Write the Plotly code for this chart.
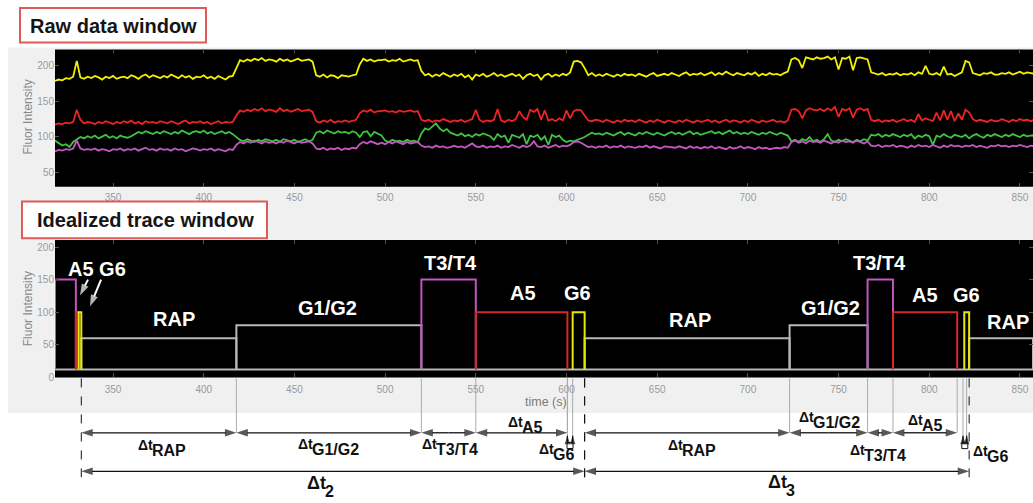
import plotly.graph_objects as go

W, H = 1033, 503

# ---------------- raw data window (fluorescence, sampled every 2 s from 318 s) -------------
raw_t0 = 318
raw_dt = 2
raw_yellow = [
    178, 180, 179, 182, 181, 184, 206, 183, 181, 184,
    182, 185, 183, 180, 184, 182, 185, 181, 183, 184,
    182, 186, 184, 181, 185, 187, 183, 186, 184, 182,
    185, 183, 187, 184, 182, 186, 183, 185, 181, 184,
    183, 186, 182, 184, 181, 185, 183, 180, 184, 185,
    196, 207, 205, 208, 206, 209, 207, 210, 206, 208,
    207, 205, 209, 206, 208, 205, 207, 209, 206, 207,
    208, 205, 186, 184, 187, 183, 186, 185, 182, 186,
    185, 184, 186, 187, 201, 209, 206, 208, 205, 207,
    207, 208, 205, 207, 206, 209, 205, 207, 208, 206,
    207, 192, 186, 188, 184, 187, 185, 189, 186, 184,
    187, 185, 188, 183, 186, 180, 187, 185, 188, 184,
    186, 189, 185, 187, 184, 186, 188, 185, 187, 181,
    186, 188, 185, 187, 180, 186, 188, 184, 187, 185,
    188, 186, 190, 205, 206, 204, 196, 186, 189, 185,
    187, 185, 188, 186, 184, 187, 185, 188, 186, 187,
    185, 188, 186, 184, 187, 189, 185, 187, 188, 186,
    189, 187, 185, 188, 190, 186, 188, 187, 189, 186,
    188, 190, 186, 189, 187, 191, 188, 186, 189, 187,
    186, 189, 187, 190, 185, 188, 186, 189, 187, 188,
    186, 189, 191, 208, 210, 207, 196, 211, 209, 208,
    211, 209, 210, 212, 208, 211, 194, 210, 209, 212,
    193, 210, 211, 209, 208, 190, 188, 187, 189, 186,
    188, 187, 189, 186, 188, 187, 189, 186, 190, 188,
    199, 188, 187, 189, 186, 198, 187, 188, 185, 187,
    190, 206, 204, 189, 187, 186, 189, 188, 190, 187,
    187, 189, 188, 190, 187, 189, 191, 188, 190, 189,
    188]
raw_red = [
    117, 119, 118, 120, 119, 121, 138, 124, 119, 121,
    120, 118, 121, 119, 122, 120, 118, 121, 119, 122,
    120, 123, 119, 121, 118, 122, 120, 121, 119, 122,
    121, 119, 122, 120, 118, 121, 123, 119, 121, 120,
    122, 119, 121, 118, 120, 122, 119, 121, 120, 121,
    130, 137, 135, 138, 136, 139, 137, 140, 136, 138,
    137, 135, 140, 136, 138, 135, 137, 139, 136, 137,
    138, 135, 122, 120, 123, 121, 124, 120, 122, 121,
    123, 121, 122, 124, 133, 137, 135, 138, 134, 136,
    136, 137, 135, 136, 134, 137, 135, 136, 137, 135,
    136, 124, 122, 124, 121, 123, 122, 125, 123, 121,
    123, 122, 124, 121, 123, 125, 138, 124, 121, 123,
    122, 124, 139, 123, 121, 124, 122, 125, 136, 128,
    124, 138, 135, 139, 124, 137, 123, 125, 122, 126,
    123, 137, 126, 136, 138, 137, 130, 123, 122, 124,
    123, 121, 124, 122, 120, 123, 121, 124, 122, 123,
    121, 124, 122, 120, 123, 121, 124, 122, 120, 123,
    122, 120, 123, 121, 124, 122, 120, 123, 121, 122,
    124, 121, 123, 120, 122, 124, 121, 123, 122, 120,
    123, 121, 124, 122, 120, 123, 121, 122, 124, 121,
    122, 120, 123, 138, 139, 136, 126, 137, 140, 138,
    137, 139, 136, 140, 137, 142, 128, 139, 137, 140,
    127, 138, 140, 137, 139, 124, 122, 124, 121, 123,
    122, 124, 121, 123, 125, 122, 124, 121, 132, 123,
    126, 124, 122, 134, 123, 137, 124, 136, 122, 133,
    124, 138, 134, 125, 122, 124, 123, 121, 124, 122,
    122, 125, 123, 121, 124, 122, 125, 123, 124, 122,
    124]
raw_green = [
    95, 92, 88, 90, 86, 93, 97, 100, 98, 101,
    99, 102, 98, 100, 103, 99, 101, 98, 102, 100,
    99, 101, 104, 107, 105, 108, 106, 104, 107, 105,
    108, 106, 104, 107, 105, 109, 106, 104, 107, 108,
    106, 109, 105, 107, 104, 106, 108, 105, 107, 104,
    100, 96, 94, 97, 95, 93, 96, 94, 97, 95,
    94, 96, 93, 97, 95, 94, 96, 93, 95, 97,
    94, 96, 106, 108, 105, 109, 107, 105, 108, 106,
    107, 105, 108, 106, 100, 107, 108, 101, 107, 105,
    102, 95, 93, 96, 94, 95, 93, 96, 94, 95,
    93, 105, 112, 110, 114, 119, 112, 108, 111, 106,
    104, 102, 105, 101, 103, 100, 104, 102, 105, 103,
    101, 96, 104, 100, 102, 92, 103, 101, 99, 104,
    90, 102, 100, 103, 96, 101, 89, 103, 100, 102,
    96, 93, 95, 94, 96, 97, 100, 103, 106, 104,
    105, 103, 106, 104, 102, 105, 107, 103, 106, 104,
    102, 106, 104, 107, 105, 103, 106, 104, 102, 105,
    107, 104, 106, 103, 105, 108, 104, 106, 103, 105,
    106, 108, 105, 107, 104, 106, 109, 105, 107, 104,
    106, 104, 107, 105, 103, 106, 104, 107, 105, 103,
    106, 104, 102, 94, 96, 93, 97, 95, 100, 94,
    96, 93, 97, 104, 95, 93, 96, 94, 97, 95,
    93, 96, 94, 97, 95, 103, 102, 104, 100, 103,
    101, 104, 102, 100, 103, 101, 104, 98, 102, 100,
    103, 101, 89, 102, 100, 104, 101, 99, 103, 101,
    100, 103, 98, 102, 104, 101, 99, 103, 101, 104,
    102, 100, 103, 101, 104, 102, 100, 103, 101, 102,
    103]
raw_magenta = [
    80, 82, 81, 83, 82, 84, 95, 84, 82, 83,
    82, 84, 81, 83, 82, 80, 83, 82, 84, 81,
    83, 82, 84, 81, 83, 85, 82, 83, 81, 84,
    82, 83, 81, 84, 82, 83, 80, 82, 84, 83,
    81, 83, 82, 84, 81, 83, 82, 80, 83, 82,
    89, 93, 91, 94, 92, 95, 93, 91, 94, 92,
    93, 91, 94, 92, 95, 93, 91, 94, 92, 93,
    94, 91, 84, 83, 85, 82, 84, 83, 85, 82,
    84, 83, 85, 84, 90, 93, 91, 94, 92, 90,
    92, 90, 93, 91, 94, 92, 90, 93, 91, 92,
    93, 88, 86, 87, 85, 88, 86, 87, 85, 86,
    88, 86, 87, 85, 88, 91, 87, 86, 88, 85,
    87, 86, 88, 85, 87, 86, 89, 87, 85, 88,
    86, 88, 94, 87, 86, 88, 85, 87, 89, 86,
    88, 87, 89, 93, 94, 92, 89, 86, 87, 85,
    87, 86, 88, 85, 87, 86, 88, 85, 87, 86,
    85, 87, 86, 88, 85, 87, 86, 84, 87, 86,
    86, 85, 87, 86, 84, 87, 85, 86, 84, 86,
    85, 87, 84, 86, 85, 83, 86, 84, 85, 87,
    84, 86, 85, 83, 86, 84, 85, 83, 84, 85,
    84, 86, 85, 93, 95, 92, 94, 91, 95, 93,
    94, 92, 95, 93, 91, 94, 92, 95, 93, 94,
    92, 95, 93, 91, 94, 88, 87, 89, 86, 88,
    87, 89, 86, 88, 87, 85, 88, 86, 89, 87,
    88, 86, 89, 87, 85, 88, 86, 89, 87, 88,
    86, 88, 87, 89, 86, 88, 87, 85, 88, 87,
    89, 87, 88, 86, 88, 87, 89, 88, 86, 88,
    87]

# ---------------- idealized trace window ----------------
seg_state = ["T3/T4", "A5", "G6", "RAP", "G1/G2", "T3/T4", "A5", "G6",
             "RAP", "G1/G2", "T3/T4", "A5", "G6", "RAP"]
seg_start = [318, 329.5, 331, 332.5, 418, 520, 550, 603.4,
             610, 723, 766, 780, 819.3, 822]
seg_end = [329.5, 331, 332.5, 418, 520, 550, 600.5, 610,
           723, 766, 780, 815.4, 822, 857.2]
seg_level = [150, 100, 100, 60, 80, 150, 100, 100, 60, 80, 150, 100, 100, 60]
baseline_level = 12

# dwell-time intervals (start, end, state) and cycle intervals
dwell = [(332.5, 418, "RAP"), (418, 520, "G1/G2"), (520, 550, "T3/T4"), (550, 600.5, "A5"),
         (610, 723, "RAP"), (723, 766, "G1/G2"), (766, 780, "T3/T4"), (780, 815.4, "A5")]
g6_marks = [(600.5, 603.4), (818.6, 820.6)]
cycles = [(332.5, 610, "2"), (610, 822, "3")]

x_range = [318, 857.2]
x_ticks = [350, 400, 450, 500, 550, 600, 650, 700, 750, 800, 850]
y1_ticks = [50, 100, 150, 200]
y2_ticks = [0, 50, 100, 150, 200]

# ---------------- styling ----------------
FONT = "Liberation Sans, Arial, sans-serif"
COL = {"yellow": "#f2f200", "red": "#ee2323", "green": "#3fc43f", "magenta": "#c457c4"}
GREY = "#b8b8b8"
STATE_COL = {"T3/T4": "#c255c2", "A5": "#d62828", "G6": "#e8e800",
             "RAP": GREY, "G1/G2": GREY}
INK = "#111111"
# approx. bold glyph advance widths (em) used to centre the split delta-t labels
ADV = {"\u0394": 0.612, "t": 0.333, "R": 0.722, "A": 0.722, "P": 0.667, "G": 0.778, "/": 0.278,
       "T": 0.611, "1": 0.556, "2": 0.556, "3": 0.556, "4": 0.556, "5": 0.556, "6": 0.556}


def ypx(p):
    return 1 - p / H


def xpx(p):
    return p / W


fig = go.Figure()

# raw traces
for vals, c in [(raw_yellow, COL["yellow"]), (raw_red, COL["red"]),
                (raw_green, COL["green"]), (raw_magenta, COL["magenta"])]:
    t = [raw_t0 + raw_dt * i for i in range(len(vals))]
    fig.add_trace(go.Scatter(x=t, y=vals, mode="lines", line=dict(color=c, width=1.8),
                             xaxis="x", yaxis="y", hoverinfo="skip", showlegend=False))

# idealized: baseline then pulses (grey first, coloured on top)
fig.add_trace(go.Scatter(x=x_range, y=[baseline_level, baseline_level], mode="lines",
                         line=dict(color=GREY, width=2), xaxis="x2", yaxis="y2",
                         hoverinfo="skip", showlegend=False))
order = [i for i in range(len(seg_state)) if STATE_COL[seg_state[i]] == GREY] + \
        [i for i in range(len(seg_state)) if STATE_COL[seg_state[i]] != GREY]
for i in order:
    s, e, lv = seg_start[i], seg_end[i], seg_level[i]
    fig.add_trace(go.Scatter(x=[s, s, e, e], y=[baseline_level, lv, lv, baseline_level],
                             mode="lines", line=dict(color=STATE_COL[seg_state[i]], width=2),
                             xaxis="x2", yaxis="y2", hoverinfo="skip", showlegend=False))

# ---------- dwell-time diagram below the idealized panel (x2 / y3, y3 in pixel rows) ----------
PLOT_BOTTOM = 383
ROW1, ROW2 = 438, 477
vx, vy = [], []
for s, e, st in dwell:
    vx += [e, e, None]
    vy += [PLOT_BOTTOM, ROW1, None]
for a, b in g6_marks:
    for m in (a, b):
        vx += [m, m, None]
        vy += [PLOT_BOTTOM, 446, None]
fig.add_trace(go.Scatter(x=vx, y=vy, mode="lines", line=dict(color="#aaaaaa", width=1),
                         xaxis="x2", yaxis="y3", hoverinfo="skip", showlegend=False))
dx, dy = [], []
for s, e, n in cycles:
    for m in (s, e):
        dx += [m, m, None]
        dy += [PLOT_BOTTOM, 483, None]
fig.add_trace(go.Scatter(x=dx, y=dy, mode="lines", line=dict(color=INK, width=1, dash="dash"),
                         xaxis="x2", yaxis="y3", hoverinfo="skip", showlegend=False))


def arrow_trace(xs, ys, sizes, color=INK, width=1.3):
    """line segments whose non-zero-size points carry an arrowhead aligned with the segment."""
    fig.add_trace(go.Scatter(x=xs, y=ys, mode="lines+markers",
                             line=dict(color=color, width=width),
                             marker=dict(symbol="arrow", size=sizes, color=color, angleref="previous",
                                         line=dict(width=0)),
                             xaxis="x2", yaxis="y3", hoverinfo="skip", showlegend=False))


ax_, ay_, as_ = [], [], []
for (s, e, st) in dwell:
    m = (s + e) / 2
    ax_ += [m, e, None, m, s, None]
    ay_ += [ROW1, ROW1, None, ROW1, ROW1, None]
    as_ += [0, 12, 0, 0, 12, 0]
for (s, e, n) in cycles:
    m = (s + e) / 2
    ax_ += [m, e, None, m, s, None]
    ay_ += [ROW2, ROW2, None, ROW2, ROW2, None]
    as_ += [0, 12, 0, 0, 12, 0]
for a, b in g6_marks:
    for mk in (a, b):
        ax_ += [mk, mk, None]
        ay_ += [449, 441, None]
        as_ += [0, 9, 0]
arrow_trace(ax_, ay_, as_)

# little box under the G6 up-arrows
fig.add_trace(go.Scatter(x=[(a + b) / 2 for a, b in g6_marks], y=[451, 451], mode="markers",
                         marker=dict(symbol="square-open", size=6, color=INK, line=dict(width=1)),
                         xaxis="x2", yaxis="y3", hoverinfo="skip", showlegend=False))

# white pointer arrows for "A5 G6"
arrow_trace([336.2, 331.8, None, 343.4, 337.3], [283, 299, None, 283, 310],
            [0, 12, 0, 0, 12], color="white", width=2)

annotations = []


def dlabel(x, y, sub, dsize=14, ssize=16, sdy=6):
    """'Δt' followed by a lower, larger subscript, drawn as two plain text pieces."""
    wd = sum(ADV[c] for c in "\u0394t") * dsize
    ws = sum(ADV[c] for c in sub) * ssize
    shift = (wd - ws) / 2
    f = dict(family=FONT, color=INK, weight="bold")
    annotations.append(dict(x=x, y=y, xref="x2", yref="y3", showarrow=False, text="\u0394t",
                            font=dict(size=dsize, **f), xanchor="right", yanchor="middle",
                            xshift=shift + 0.5, borderpad=0, borderwidth=0))
    annotations.append(dict(x=x, y=y, xref="x2", yref="y3", showarrow=False, text=sub,
                            font=dict(size=ssize, **f), xanchor="left", yanchor="middle",
                            xshift=shift - 0.5, yshift=-sdy, borderpad=0, borderwidth=0))


label_pos1 = {0: (377.5, 450), 1: (469.3, 449), 2: (536.3, 449), 3: (578.0, 427),
              4: (669.5, 450), 5: (745.3, 422), 6: (772.3, 455), 7: (798.5, 425)}
for i, (s, e, st) in enumerate(dwell):
    x, y = label_pos1[i]
    dlabel(x, y, st)
dlabel(595.1, 454, "G6")
dlabel(834.3, 456, "G6")
for (s, e, n), (x, y) in zip(cycles, [(464.7, 489), (718.8, 488)]):
    dlabel(x, y, n, dsize=18, ssize=16, sdy=8)

# white state labels in the idealized panel
state_labels = [("A5 G6", 341.2, 167), ("RAP", 383.6, 89), ("G1/G2", 468.5, 106),
                ("T3/T4", 535.8, 176), ("A5", 576, 130), ("G6", 605.8, 130),
                ("RAP", 668, 88), ("G1/G2", 745.3, 106), ("T3/T4", 772.8, 176),
                ("A5", 797.6, 127), ("G6", 820.8, 127), ("RAP", 843.5, 85)]
for txt, x, y in state_labels:
    annotations.append(dict(x=x, y=y, xref="x2", yref="y2", text=txt, showarrow=False,
                            font=dict(family=FONT, size=20, color="white", weight="bold"),
                            xanchor="center", yanchor="middle"))

# titles, axis titles
for txt, cx, cy in [("Raw data window", 113, 26), ("Idealized trace window", 145, 223)]:
    annotations.append(dict(x=xpx(cx), y=ypx(cy), xref="paper", yref="paper", text=txt,
                            showarrow=False, font=dict(family=FONT, size=20, color="#151515", weight="bold"),
                            xanchor="center", yanchor="middle"))
for cy in (119, 313):
    annotations.append(dict(x=xpx(28), y=ypx(cy), xref="paper", yref="paper", text="Fluor Intensity",
                            textangle=-90, showarrow=False, font=dict(family=FONT, size=12, color="#8a8a8a"),
                            xanchor="center", yanchor="middle"))
annotations.append(dict(x=xpx(546), y=ypx(407), xref="paper", yref="paper", text="time (s)",
                        showarrow=False, font=dict(family=FONT, size=12.5, color="#7a7a7a"),
                        xanchor="center", yanchor="middle"))

shapes = [
    dict(type="rect", xref="paper", yref="paper", x0=xpx(8), x1=1, y0=ypx(418), y1=ypx(48),
         fillcolor="#f0f0f1", line=dict(width=0), layer="below"),
    dict(type="rect", xref="x domain", yref="y domain", x0=0, x1=1, y0=0, y1=1,
         fillcolor="black", line=dict(width=0), layer="below"),
    dict(type="rect", xref="x2 domain", yref="y2 domain", x0=0, x1=1, y0=0, y1=1,
         fillcolor="black", line=dict(width=0), layer="below"),
    dict(type="rect", xref="paper", yref="paper", x0=xpx(20), x1=xpx(206), y0=ypx(43), y1=ypx(8),
         fillcolor="white", line=dict(color="#e05a5a", width=2)),
    dict(type="rect", xref="paper", yref="paper", x0=xpx(22), x1=xpx(267), y0=ypx(241), y1=ypx(204),
         fillcolor="white", line=dict(color="#e05a5a", width=2)),
]

axis_common = dict(showgrid=False, zeroline=False, showline=False, ticks="inside", ticklen=4,
                   tickcolor="#555555", tickwidth=1, mirror="ticks",
                   tickfont=dict(family=FONT, size=10, color="#9a9a9a"))

fig.update_layout(
    width=W, height=H, margin=dict(l=0, r=0, t=0, b=0),
    paper_bgcolor="white", plot_bgcolor="rgba(0,0,0,0)", showlegend=False,
    xaxis=dict(domain=[xpx(55), 1], range=x_range, anchor="y", tickvals=x_ticks,
               ticklabelstandoff=3, **axis_common),
    yaxis=dict(domain=[ypx(189), ypx(50)], range=[30.7, 222], anchor="x", tickvals=y1_ticks, **axis_common),
    xaxis2=dict(domain=[xpx(55), 1], range=x_range, anchor="y2", tickvals=x_ticks,
                ticklabelstandoff=5, **axis_common),
    yaxis2=dict(domain=[ypx(382), ypx(243)], range=[0, 210.6], anchor="x2", tickvals=y2_ticks, **axis_common),
    yaxis3=dict(domain=[0, 1], range=[H, 0], anchor="x2", visible=False),
    shapes=shapes, annotations=annotations,
)

fig.write_html("out.html")
